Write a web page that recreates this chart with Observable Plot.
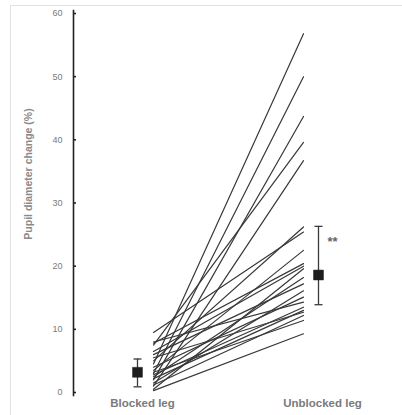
<!DOCTYPE html>
<html>
<head>
<meta charset="utf-8">
<script src="https://cdn.jsdelivr.net/npm/d3@7"></script>
<script src="https://cdn.jsdelivr.net/npm/@observablehq/plot@0.6"></script>
<style>
  html, body { margin: 0; padding: 0; background: #fff; }
  #wrap { position: relative; width: 402px; height: 415px; }
  #edge { position: absolute; left: 10px; top: 5px; right: 0; bottom: 0;
          border-top: 1px solid #e2e2e2; border-left: 1px solid #e2e2e2; pointer-events: none; }
</style>
</head>
<body>
<div id="wrap"><div id="edge"></div></div>
<script>
// Categories (conditions)
const categories = ["Blocked leg", "Unblocked leg"];
// Per-subject pupil diameter change (%), paired by index
const blocked   = [4.5, 3.0, 2.0, 7.5, 1.0, 5.0, 9.5, 3.5, 7.8, 0.5, 2.5, 6.0, 1.5, 4.0, 8.0, 2.8, 5.5, 1.2, 3.2, 0.3, 6.5, 2.2];
const unblocked = [56.8, 50.0, 43.7, 39.6, 36.7, 26.2, 25.4, 22.5, 20.4, 19.6, 18.2, 17.2, 16.1, 15.1, 14.3, 13.5, 12.7, 12.2, 11.4, 9.3, 20.0, 13.0];
// Group summaries: mean and error-bar limits
const means   = [3.2, 18.6];
const errLow  = [0.9, 13.9];
const errHigh = [5.3, 26.3];
const yTicks  = [0, 10, 20, 30, 40, 50, 60];
const significance = "**";
const sigValue = 23.8;

const pairs = blocked.map((b, i) => ({ id: i, b, u: unblocked[i] }));
const lineData = pairs.flatMap(p => [
  { id: p.id, cond: 0, v: p.b },
  { id: p.id, cond: 1, v: p.u }
]);
const summary = categories.map((c, i) => ({
  cond: i, label: c, mean: means[i], lo: errLow[i], hi: errHigh[i]
}));

// horizontal offsets (px) of the summary markers and labels from the line ends
const markerOffset = [-16, 15];
const labelOffset  = [-11, 19];

const capSymbol = {
  draw(context, size) {
    const w = 4;
    context.moveTo(-w, 0);
    context.lineTo(w, 0);
  }
};

const font = "'Liberation Sans', Arial, sans-serif";

const summaryMarks = summary.flatMap((s, i) => [
  Plot.ruleX([s], { x: "cond", y1: "lo", y2: "hi", dx: markerOffset[i], stroke: "#3a3a3a", strokeWidth: 1.3 }),
  Plot.dot([s, s], { x: "cond", y: (d, j) => j === 0 ? d.lo : d.hi, dx: markerOffset[i],
    symbol: capSymbol, stroke: "#3a3a3a", strokeWidth: 1.3, r: 4 }),
  Plot.dot([s], { x: "cond", y: "mean", dx: markerOffset[i], symbol: "square", r: 5.6,
    fill: "#1e1e1e", stroke: "#1e1e1e", strokeWidth: 0.5 }),
  Plot.text([s], { x: "cond", frameAnchor: "bottom", text: "label", dx: labelOffset[i], dy: 3,
    lineAnchor: "top", fontSize: 11.5, fontWeight: "bold", fill: "#7a7a7a" })
]);

const chart = Plot.plot({
  width: 402,
  height: 415,
  marginLeft: 73,
  marginRight: 0,
  marginTop: 10,
  marginBottom: 20,
  style: { fontFamily: font, background: "transparent", overflow: "visible" },
  x: { type: "linear", domain: [0, 1], range: [153, 303], axis: null },
  y: { domain: [0, 60], range: [392, 13] },
  marks: [
    Plot.frame({ anchor: "left", stroke: "#222", strokeWidth: 1.6 }),
    Plot.axisY({
      ticks: yTicks, tickSize: -3, tickPadding: 14, stroke: "#222", strokeWidth: 1.6,
      fontSize: 9, fill: "#7a7a7a", label: null
    }),
    Plot.text(["Pupil diameter change (%)"], {
      frameAnchor: "left", text: d => d, rotate: -90, textAnchor: "middle", dx: -45, dy: -29,
      fontSize: 10.5, fill: "#8a8a8a", fontWeight: 600
    }),
    Plot.line(lineData, { x: "cond", y: "v", z: "id", stroke: "#383838", strokeWidth: 1.2 }),
    ...summaryMarks,
    Plot.text([significance], {
      x: () => 1, y: () => sigValue, text: d => d, dx: 29, fontSize: 13, fontWeight: "bold", fill: "#666"
    })
  ]
});

document.getElementById("wrap").appendChild(chart);
</script>
</body>
</html>
